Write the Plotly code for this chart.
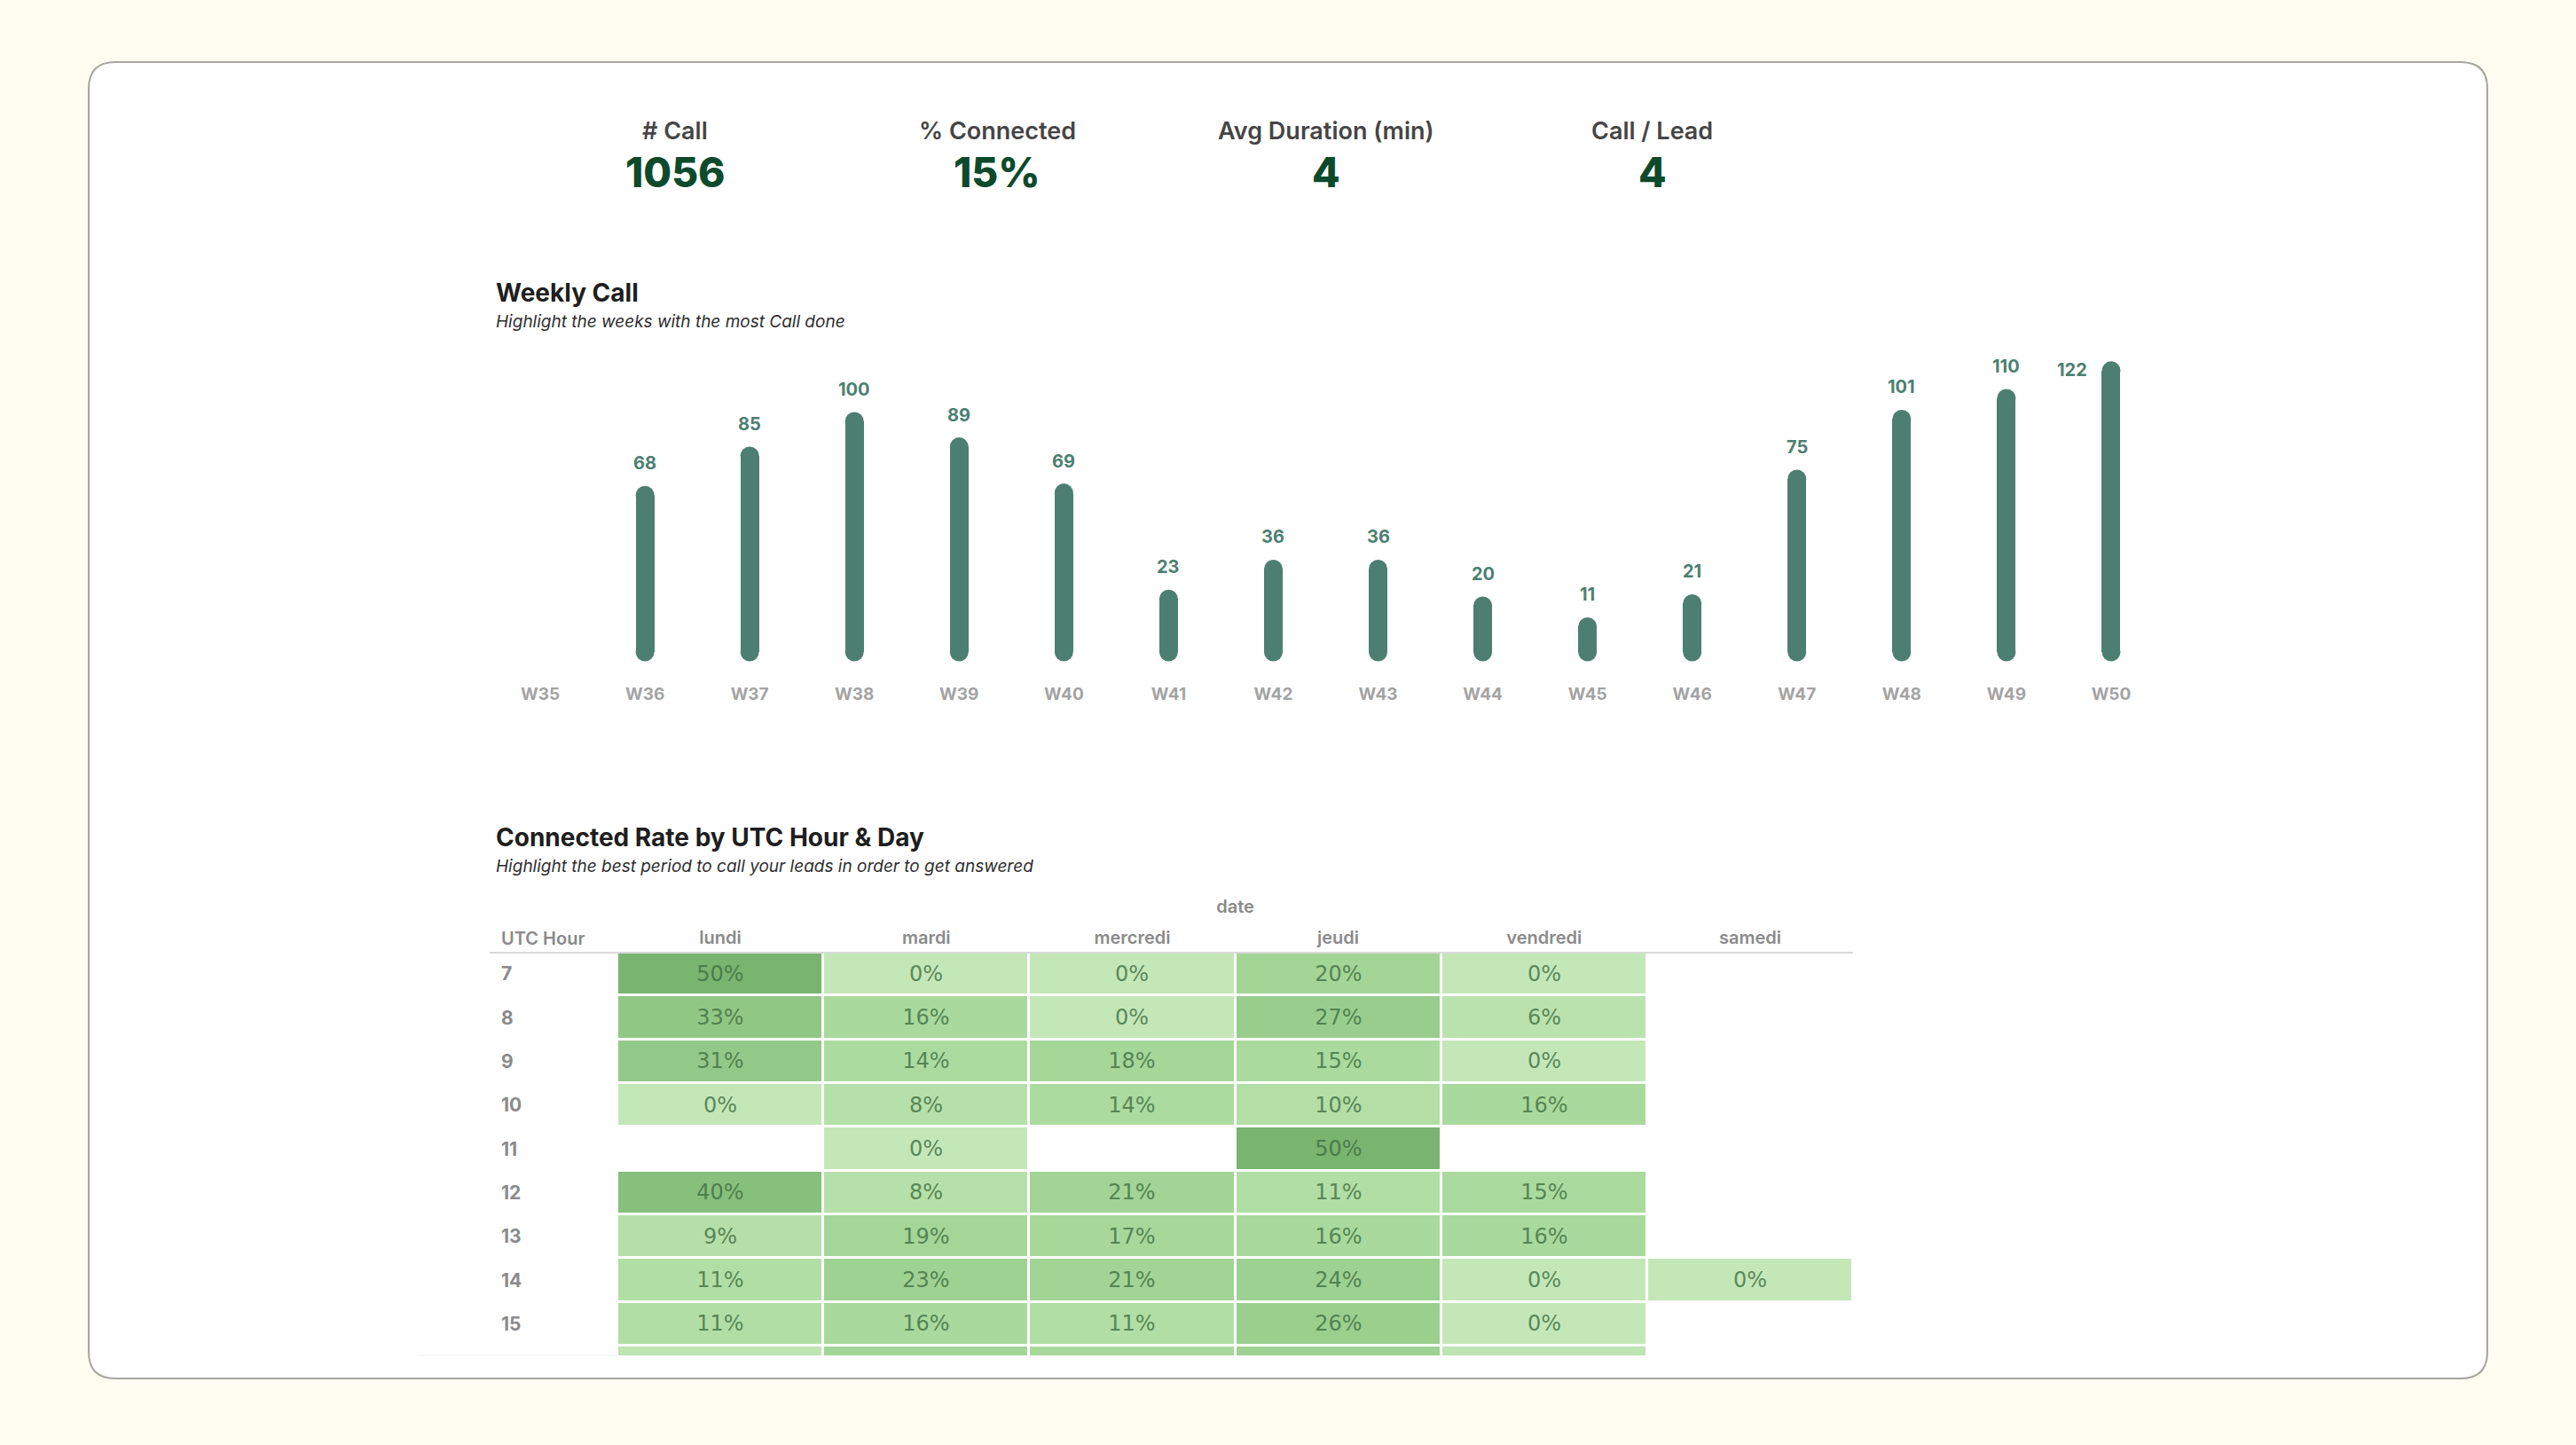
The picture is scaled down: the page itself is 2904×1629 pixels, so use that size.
import plotly.graph_objects as go

W, H = 2904, 1629

# ---------------- data ----------------
kpi_labels = ["# Call", "% Connected", "Avg Duration (min)", "Call / Lead"]
kpi_values = ["1056", "15%", "4", "4"]

weeks = ["W35", "W36", "W37", "W38", "W39", "W40", "W41", "W42",
         "W43", "W44", "W45", "W46", "W47", "W48", "W49", "W50"]
calls = [0, 68, 85, 100, 89, 69, 23, 36, 36, 20, 11, 21, 75, 101, 110, 122]

days = ["lundi", "mardi", "mercredi", "jeudi", "vendredi", "samedi"]
hours = [7, 8, 9, 10, 11, 12, 13, 14, 15, 16]
lundi    = [50, 33, 31, 0, None, 40, 9, 11, 11, 4]
mardi    = [0, 16, 14, 8, 0, 8, 19, 23, 16, 20]
mercredi = [0, 0, 18, 14, None, 21, 17, 21, 11, 17]
jeudi    = [20, 27, 15, 10, 50, 11, 16, 24, 26, 23]
vendredi = [0, 6, 0, 16, None, 15, 16, 0, 0, 3]
samedi   = [None, None, None, None, None, None, None, 0, None, None]

# ---------------- helpers ----------------
def fx(px):
    return px / W

def fy(py):
    return 1 - py / H

BAR_COLOR = "#4D7F71"
FONT = "Inter"
BAR_PX = 21

fig = go.Figure()

# ---------------- weekly bars (rounded-cap columns) ----------------
fig.add_trace(go.Bar(
    x=weeks, y=calls, width=0.178, marker=dict(color=BAR_COLOR, line=dict(width=0)),
    xaxis="x", yaxis="y", hoverinfo="x+y", showlegend=False,
))
nz = [(w, v) for w, v in zip(weeks, calls) if v > 0]
for ys in ([0 for _ in nz], [v for _, v in nz]):
    fig.add_trace(go.Scatter(
        x=[w for w, _ in nz], y=ys, mode="markers",
        marker=dict(color=BAR_COLOR, size=BAR_PX, symbol="circle", line=dict(width=0)),
        xaxis="x", yaxis="y", hoverinfo="skip", showlegend=False, cliponaxis=False,
    ))

annotations = []
for i, (w, v) in enumerate(zip(weeks, calls)):
    if v <= 0:
        continue
    last = i == len(weeks) - 1
    annotations.append(dict(
        x=w, y=v, xref="x", yref="y", text=str(v), showarrow=False,
        xanchor="center", yanchor="middle",
        xshift=-44 if last else 0, yshift=1 if last else 36,
        font=dict(family=FONT, size=20, color="#4D7F71", weight=700),
    ))

# ---------------- heatmap ----------------
cols = [lundi, mardi, mercredi, jeudi, vendredi, samedi]
z = [[c[r] for c in cols] for r in range(len(hours))]
txt = [["" if v is None else f"{v}%" for v in row] for row in z]

fig.add_trace(go.Heatmap(
    x=days, y=hours, z=z, text=txt, texttemplate="%{text}",
    textfont=dict(family="DejaVu Sans", size=24, color="rgba(62,110,62,0.8)"),
    colorscale=[[0, "#C4E7B8"], [0.35, "#A6D899"], [1, "#79B470"]],
    zmin=0, zmax=50, xgap=3, ygap=3, showscale=False,
    xaxis="x2", yaxis="y2", hoverongaps=False,
))

for h in hours[:-1]:
    annotations.append(dict(
        x=fx(563), y=h, xref="paper", yref="y2", text=str(h), showarrow=False,
        xanchor="left", yanchor="middle",
        font=dict(family=FONT, size=21, color="#8A8A8A", weight=700),
    ))

# ---------------- KPI & titles ----------------
kpi_x = [761, 1124, 1495, 1863]
for lx, lab, val in zip(kpi_x, kpi_labels, kpi_values):
    annotations.append(dict(x=fx(lx), y=fy(147), xref="paper", yref="paper", text=lab,
                            xanchor="center", yanchor="middle", showarrow=False,
                            font=dict(family=FONT, size=27, color="#454545", weight=600)))
    annotations.append(dict(x=fx(lx), y=fy(194), xref="paper", yref="paper", text=val,
                            xanchor="center", yanchor="middle", showarrow=False,
                            font=dict(family=FONT, size=46, color="#0D4A2C", weight=800)))

def title_block(y_title, y_sub, title, sub):
    annotations.append(dict(x=fx(557), y=fy(y_title), xref="paper", yref="paper", text=title,
                            xanchor="left", yanchor="middle", showarrow=False,
                            font=dict(family=FONT, size=28, color="#1E1E1E", weight=700)))
    annotations.append(dict(x=fx(557), y=fy(y_sub), xref="paper", yref="paper", text=sub,
                            xanchor="left", yanchor="middle", showarrow=False,
                            font=dict(family=FONT, size=19, color="#2E2E2E", style="italic")))

title_block(330, 362, "Weekly Call", "Highlight the weeks with the most Call done")
title_block(944, 976, "Connected Rate by UTC Hour &amp; Day",
            "Highlight the best period to call your leads in order to get answered")

annotations.append(dict(x=fx(563), y=fy(1058), xref="paper", yref="paper", text="UTC Hour",
                        xanchor="left", yanchor="middle", showarrow=False,
                        font=dict(family=FONT, size=20, color="#8A8A8A", weight=600)))

# ---------------- card shape ----------------
x0, x1, y0, y1 = fx(100), fx(2804), fy(70), fy(1554)
rx, ry = 30 / W, 30 / H
card = (f"M {x0+rx},{y0} L {x1-rx},{y0} Q {x1},{y0} {x1},{y0-ry} "
        f"L {x1},{y1+ry} Q {x1},{y1} {x1-rx},{y1} L {x0+rx},{y1} "
        f"Q {x0},{y1} {x0},{y1+ry} L {x0},{y0-ry} Q {x0},{y0} {x0+rx},{y0} Z")

shapes = [
    dict(type="path", path=card, xref="paper", yref="paper", layer="below",
         fillcolor="white", line=dict(color="#A6A6A0", width=2)),
    dict(type="line", xref="paper", yref="paper", x0=fx(552), x1=fx(2089),
         y0=fy(1074), y1=fy(1074), line=dict(color="#D9D9D9", width=2)),
    dict(type="line", xref="paper", yref="paper", x0=fx(470), x1=fx(696),
         y0=fy(1528), y1=fy(1528), line=dict(color="#EFEFEF", width=1)),
]

fig.update_layout(
    width=W, height=H, margin=dict(l=0, r=0, t=0, b=0),
    paper_bgcolor="#FFFDF1", plot_bgcolor="rgba(0,0,0,0)",
    font=dict(family=FONT),
    xaxis=dict(domain=[fx(550), fx(2439)], range=[-0.5, 15.5], type="category",
               showgrid=False, zeroline=False, showline=False, ticks="",
               tickfont=dict(family=FONT, size=19, color="#A3A3A3", weight=700),
               ticklabelstandoff=34, fixedrange=True),
    yaxis=dict(domain=[fy(735), fy(371)], range=[0, 140], visible=False, fixedrange=True),
    xaxis2=dict(domain=[fx(696), fx(2089)], anchor="y2", side="top", type="category",
                showgrid=False, zeroline=False, showline=False, ticks="",
                tickfont=dict(family=FONT, size=20, color="#8A8A8A", weight=600),
                ticklabelstandoff=4,
                title=dict(text="date", standoff=10,
                           font=dict(family=FONT, size=20, color="#8A8A8A", weight=600)),
                fixedrange=True),
    yaxis2=dict(domain=[fy(1528), fy(1073)], anchor="x2", range=[15.72, 6.5],
                autorange=False, visible=False, fixedrange=True),
    annotations=annotations,
    shapes=shapes,
    bargap=0,
)

fig.write_html("out.html", config={"displayModeBar": False},
               post_script="document.body.style.margin='0';")
